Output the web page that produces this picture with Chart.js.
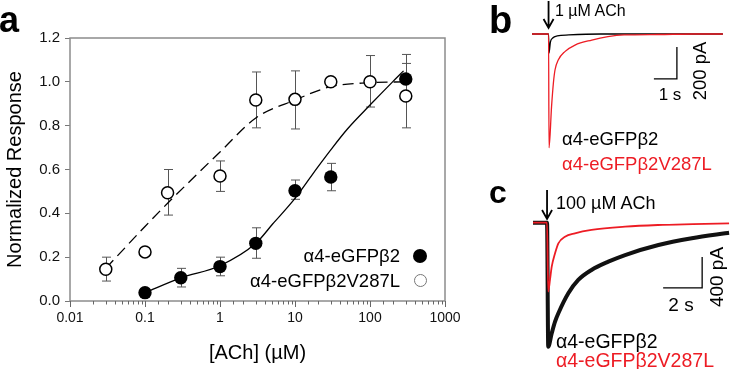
<!DOCTYPE html>
<html>
<head>
<meta charset="utf-8">
<title>ACh dose response and currents</title>
<script src="https://cdn.jsdelivr.net/npm/chart.js@4.4.1/dist/chart.umd.min.js"></script>
<style>
  body { margin: 0; background: #fff; }
  #wrap { position: relative; width: 734px; height: 369px; overflow: hidden;
          font-family: "Liberation Sans", Arial, sans-serif; color: #000; }
  canvas { position: absolute; }
  .t { position: absolute; white-space: nowrap; line-height: 1; }
  .panel { font-weight: bold; }
  .red { color: #ed1c24; }
  .rot { transform: translate(-50%, -50%) rotate(-90deg); }
  .mid { transform: translateX(-50%); }
  .dot { position: absolute; border-radius: 50%; box-sizing: border-box; }
</style>
</head>
<body>
<div id="wrap">
  <canvas id="doseChart" width="470" height="369" style="left:0;top:0"></canvas>
  <canvas id="traceB" width="264" height="185" style="left:470px;top:0"></canvas>
  <canvas id="traceC" width="264" height="189" style="left:470px;top:180px"></canvas>

  <div class="t panel" style="left:-1px;top:1.5px;font-size:36px">a</div>
  <div class="t panel" style="left:489px;top:1px;font-size:38px">b</div>
  <div class="t panel" style="left:489px;top:176px;font-size:32px">c</div>

  <!-- legend of panel a -->
  <div class="t" style="right:334px;top:247px;font-size:18.5px">α4-eGFPβ2</div>
  <div class="t" style="right:334px;top:272px;font-size:18.5px">α4-eGFPβ2V287L</div>
  <div class="dot" style="left:413px;top:248.5px;width:14px;height:14px;background:#000"></div>
  <div class="dot" style="left:414px;top:274px;width:13px;height:13px;border:1px solid #777"></div>

  <!-- panel b -->
  <div class="t" style="left:555px;top:3px;font-size:16px">1 µM ACh</div>
  <div class="t mid" style="left:670px;top:85.5px;font-size:17px">1 s</div>
  <div class="t rot" style="left:700px;top:71px;font-size:18.5px">200 pA</div>
  <div class="t" style="left:562px;top:130px;font-size:18.5px">α4-eGFPβ2</div>
  <div class="t red" style="left:562px;top:155px;font-size:18.5px">α4-eGFPβ2V287L</div>

  <!-- panel c -->
  <div class="t" style="left:556px;top:193.5px;font-size:18px">100 µM ACh</div>
  <div class="t mid" style="left:681px;top:295px;font-size:19px">2 s</div>
  <div class="t rot" style="left:716px;top:277px;font-size:19px">400 pA</div>
  <div class="t" style="left:556px;top:331.5px;font-size:19.5px">α4-eGFPβ2</div>
  <div class="t red" style="left:556px;top:350.5px;font-size:19.5px">α4-eGFPβ2V287L</div>
</div>

<script>
// ---- panel a: concentration-response ----
var xTickLabels = ["0.01", "0.1", "1", "10", "100", "1000"];
var yTickMax = 1.2;

var wtConc = [0.1, 0.3, 1, 3, 10, 30, 300];
var wtResp = [0.038, 0.106, 0.157, 0.263, 0.503, 0.566, 1.013];
var wtLow = [0.038, 0.064, 0.115, 0.195, 0.464, 0.503, 0.94];
var wtHigh = [0.038, 0.149, 0.2, 0.334, 0.552, 0.628, 1.084];

var mutConc = [0.03, 0.1, 0.2, 1, 3, 10, 30, 100, 300];
var mutResp = [0.145, 0.224, 0.494, 0.57, 0.917, 0.92, 1.0, 1.0, 0.935];
var mutLow = [0.091, 0.224, 0.392, 0.5, 0.79, 0.785, 1.0, 0.885, 0.79];
var mutHigh = [0.2, 0.224, 0.6, 0.639, 1.045, 1.05, 1.0, 1.12, 1.125];

// fitted curves
var wtFitConc = [0.1, 0.3, 1, 3, 5, 10, 20, 30, 50, 100, 200, 280];
var wtFitResp = [0.038, 0.106, 0.161, 0.263, 0.35, 0.468, 0.61, 0.69, 0.785, 0.894, 1.0, 1.05];
var mutFitConc = [0.03, 0.1, 0.2, 0.5, 1, 3, 10, 30, 100, 300];
var mutFitResp = [0.149, 0.34, 0.446, 0.58, 0.68, 0.835, 0.917, 0.978, 0.996, 1.0];

// ---- panel b: 1 uM ACh (time in s, current in pA) ----
var wtTimeB = [0, 0.72, 0.74, 0.8, 0.9, 1.1, 1.6, 3, 8.3];
var wtCurB = [0, 0, -119, -50, -25, -12, -6, 0, 0];
var mutTimeB = [0, 0.72, 0.74, 0.85, 0.93, 1.0, 1.14, 1.43, 1.87, 2.6, 3.3, 4.0, 5.5, 7.0, 8.3];
var mutCurB = [0, 0, -712, -454, -306, -225, -163, -110, -69, -38, -17, -6, -3, 0, 0];
var barTimeB = [5.3, 6.3, 6.3];
var barCurB = [-281, -281, -81];

// ---- panel c: 100 uM ACh ----
var wtTimeC = [0, 0.72, 0.78, 0.96, 1.13, 1.3, 1.81, 2.32, 3.0, 3.86, 4.72, 6.43, 8.14, 9.85, 10.05];
var wtCurC = [0, 0, -1600, -1427, -1277, -1169, -911, -739, -610, -503, -417, -288, -201, -137, -130];
var mutTimeC = [0, 0.72, 0.78, 0.87, 0.96, 1.13, 1.3, 1.64, 2.15, 3.0, 4.72, 6.4, 8.2, 10.05];
var mutCurC = [0, 0, -890, -739, -568, -395, -266, -181, -137, -94, -52, -30, -18, -8];
var barTimeC = [6.67, 8.67, 8.67];
var barCurC = [-842, -842, -442];

Chart.defaults.font.family = "'Liberation Sans', Arial, sans-serif";
Chart.defaults.color = "#111";

function zip(xs, ys) {
  return xs.map(function (v, i) { return { x: v, y: ys[i] }; });
}
function isDecade(v) {
  var l = Math.log10(v);
  return Math.abs(l - Math.round(l)) < 1e-6;
}

var errorBars = {
  id: "errorBars",
  beforeDatasetsDraw: function (chart) {
    var ctx = chart.ctx, x = chart.scales.x, y = chart.scales.y;
    ctx.save();
    ctx.strokeStyle = "#555";
    ctx.lineWidth = 1;
    [[wtConc, wtLow, wtHigh], [mutConc, mutLow, mutHigh]].forEach(function (s) {
      s[0].forEach(function (c, i) {
        if (s[2][i] - s[1][i] < 0.005) return;
        var px = Math.round(x.getPixelForValue(c)) + 0.5;
        var p1 = y.getPixelForValue(s[1][i]), p2 = y.getPixelForValue(s[2][i]);
        ctx.beginPath();
        ctx.moveTo(px, p1); ctx.lineTo(px, p2);
        ctx.moveTo(px - 4.5, p1); ctx.lineTo(px + 4.5, p1);
        ctx.moveTo(px - 4.5, p2); ctx.lineTo(px + 4.5, p2);
        ctx.stroke();
      });
    });
    ctx.restore();
  },
  afterDraw: function (chart) {
    var ctx = chart.ctx, a = chart.chartArea, x = chart.scales.x;
    ctx.save();
    ctx.strokeStyle = "#8c8c8c";
    ctx.lineWidth = 1.5;
    ctx.strokeRect(a.left, a.top, a.right - a.left, a.bottom - a.top);
    ctx.lineWidth = 1;
    ctx.strokeStyle = "#666";
    ctx.beginPath();
    x.ticks.forEach(function (t) {
      var px = Math.round(x.getPixelForValue(t.value)) + 0.5;
      ctx.moveTo(px, a.bottom);
      ctx.lineTo(px, a.bottom + (isDecade(t.value) ? 6 : 3.5));
    });
    ctx.stroke();
    ctx.restore();
  }
};

new Chart(document.getElementById("doseChart"), {
  type: "scatter",
  data: {
    datasets: [
      { data: zip(wtConc, wtResp), pointRadius: 6.7, backgroundColor: "#000",
        borderColor: "#000", borderWidth: 0, order: 0 },
      { data: zip(mutConc, mutResp), pointRadius: 6, backgroundColor: "#fff",
        borderColor: "#000", borderWidth: 1.5, order: 0 },
      { data: zip(wtFitConc, wtFitResp), showLine: true, pointRadius: 0,
        borderColor: "#000", borderWidth: 1.3, cubicInterpolationMode: "monotone", order: 1 },
      { data: zip(mutFitConc, mutFitResp), showLine: true, pointRadius: 0,
        borderColor: "#000", borderWidth: 1.3, borderDash: [11, 6],
        cubicInterpolationMode: "monotone", order: 1 }
    ]
  },
  options: {
    responsive: false,
    animation: false,
    layout: { padding: { top: 38, right: 25, left: 0, bottom: 0 } },
    plugins: { legend: { display: false }, tooltip: { enabled: false } },
    scales: {
      x: {
        type: "logarithmic", min: 0.01, max: 1000,
        border: { display: false },
        grid: { drawOnChartArea: false, tickLength: 6, color: "rgba(0,0,0,0)" },
        ticks: {
          autoSkip: false, maxRotation: 0, padding: 3, font: { size: 14 },
          callback: function (v) {
            return isDecade(v) ? xTickLabels[Math.round(Math.log10(v)) + 2] : "";
          }
        },
        title: { display: true, text: "[ACh] (µM)", font: { size: 20 }, color: "#000",
                 padding: { top: 4, bottom: 4 } },
        afterFit: function (s) { s.height = 68; }
      },
      y: {
        min: 0, max: yTickMax,
        border: { display: false },
        grid: { drawOnChartArea: false, tickLength: 5, color: "#777" },
        ticks: { stepSize: 0.2, padding: 5, font: { size: 15 },
                 callback: function (v) { return v.toFixed(1); } },
        title: { display: true, text: "Normalized Response", font: { size: 20 }, color: "#000",
                 padding: { top: 3, bottom: 0 } },
        afterFit: function (s) { s.width = 70; }
      }
    }
  },
  plugins: [errorBars]
});

// ---- current traces ----
var stimArrow = {
  id: "stimArrow",
  afterDraw: function (chart, args, o) {
    var ctx = chart.ctx;
    var px = chart.scales.x.getPixelForValue(o.t);
    ctx.save();
    ctx.strokeStyle = "#000";
    ctx.lineWidth = 1.8;
    ctx.beginPath();
    ctx.moveTo(px, o.y1); ctx.lineTo(px, o.y2);
    ctx.moveTo(px - 5, o.y2 - 9); ctx.lineTo(px, o.y2); ctx.lineTo(px + 5, o.y2 - 9);
    ctx.stroke();
    ctx.restore();
  }
};

function traceChart(id, sets, xMax, yMin, yMax, pad, arrow) {
  return new Chart(document.getElementById(id), {
    type: "line",
    data: { datasets: sets },
    options: {
      responsive: false,
      animation: false,
      layout: { padding: pad },
      plugins: { legend: { display: false }, tooltip: { enabled: false }, stimArrow: arrow },
      elements: { point: { radius: 0 } },
      scales: {
        x: { type: "linear", min: 0, max: xMax, display: false },
        y: { min: yMin, max: yMax, display: false }
      }
    },
    plugins: [stimArrow]
  });
}

var red = "#ed1c24";

traceChart("traceB", [
  { data: zip(mutTimeB, mutCurB), borderColor: red, borderWidth: 1.3,
    cubicInterpolationMode: "monotone", clip: false, order: 0 },
  { data: zip(wtTimeB, wtCurB), borderColor: "#000", borderWidth: 1.3,
    cubicInterpolationMode: "monotone", clip: false, order: 1 },
  { data: zip(barTimeB, barCurB), borderColor: "#000", borderWidth: 1.3, tension: 0, order: 2 }
], 8.5, -750, 62.5, { left: 62, right: 6.5, top: 24, bottom: 31 }, { t: 0.72, y1: 1, y2: 28 });

traceChart("traceC", [
  { data: zip(mutTimeC, mutCurC), borderColor: red, borderWidth: 1.8,
    cubicInterpolationMode: "monotone", clip: false, order: 0 },
  { data: zip(wtTimeC, wtCurC), borderColor: "#111", borderWidth: 4,
    cubicInterpolationMode: "monotone", clip: false, order: 1 },
  { data: zip(barTimeC, barCurC), borderColor: "#000", borderWidth: 1.3, tension: 0, order: 2 }
], 10.2, -1707, 138, { left: 63, right: 2, top: 32, bottom: 14 }, { t: 0.72, y1: 10, y2: 39 });
</script>
</body>
</html>
